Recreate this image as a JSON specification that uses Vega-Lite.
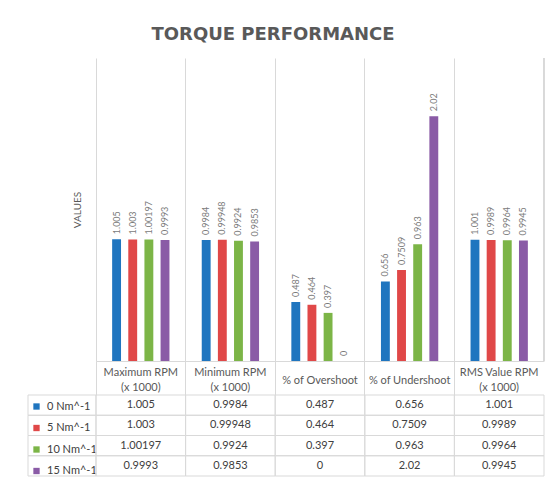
{
  "$schema": "https://vega.github.io/schema/vega-lite/v6.json",
  "title": {
    "text": "TORQUE PERFORMANCE",
    "font": "DejaVu Sans",
    "fontSize": 18,
    "fontWeight": "bold",
    "color": "#595959",
    "anchor": "middle",
    "dx": -13,
    "offset": 14
  },
  "background": "white",
  "padding": {"left": 27, "top": 25, "right": 7, "bottom": 5},
  "config": {"view": {"stroke": null}, "font": "Lato"},
  "datasets": {
    "perf": [
      {"metric": "Maximum RPM|(x 1000)", "series": "0 Nm^-1", "value": 1.005},
      {"metric": "Maximum RPM|(x 1000)", "series": "5 Nm^-1", "value": 1.003},
      {"metric": "Maximum RPM|(x 1000)", "series": "10 Nm^-1", "value": 1.00197},
      {"metric": "Maximum RPM|(x 1000)", "series": "15 Nm^-1", "value": 0.9993},
      {"metric": "Minimum RPM|(x 1000)", "series": "0 Nm^-1", "value": 0.9984},
      {"metric": "Minimum RPM|(x 1000)", "series": "5 Nm^-1", "value": 0.99948},
      {"metric": "Minimum RPM|(x 1000)", "series": "10 Nm^-1", "value": 0.9924},
      {"metric": "Minimum RPM|(x 1000)", "series": "15 Nm^-1", "value": 0.9853},
      {"metric": "% of Overshoot", "series": "0 Nm^-1", "value": 0.487},
      {"metric": "% of Overshoot", "series": "5 Nm^-1", "value": 0.464},
      {"metric": "% of Overshoot", "series": "10 Nm^-1", "value": 0.397},
      {"metric": "% of Overshoot", "series": "15 Nm^-1", "value": 0},
      {"metric": "% of Undershoot", "series": "0 Nm^-1", "value": 0.656},
      {"metric": "% of Undershoot", "series": "5 Nm^-1", "value": 0.7509},
      {"metric": "% of Undershoot", "series": "10 Nm^-1", "value": 0.963},
      {"metric": "% of Undershoot", "series": "15 Nm^-1", "value": 2.02},
      {"metric": "RMS Value RPM|(x 1000)", "series": "0 Nm^-1", "value": 1.001},
      {"metric": "RMS Value RPM|(x 1000)", "series": "5 Nm^-1", "value": 0.9989},
      {"metric": "RMS Value RPM|(x 1000)", "series": "10 Nm^-1", "value": 0.9964},
      {"metric": "RMS Value RPM|(x 1000)", "series": "15 Nm^-1", "value": 0.9945}
    ],
    "series": [
      {"series": "0 Nm^-1"},
      {"series": "5 Nm^-1"},
      {"series": "10 Nm^-1"},
      {"series": "15 Nm^-1"}
    ]
  },
  "columns": 2,
  "spacing": {"row": 34, "column": 0},
  "bounds": "flush",
  "resolve": {
    "scale": {"x": "independent", "y": "independent", "color": "independent", "xOffset": "independent"},
    "legend": {"color": "independent"}
  },
  "concat": [
    {
      "width": 68,
      "height": 303,
      "data": {"values": []},
      "mark": "point"
    },
    {
      "width": 448,
      "height": 303,
      "data": {"name": "perf"},
      "encoding": {
        "x": {
          "field": "metric",
          "type": "nominal",
          "sort": null,
          "scale": {"paddingInner": 0, "paddingOuter": 0},
          "axis": {
            "title": null,
            "orient": "bottom",
            "bandPosition": 0,
            "grid": true,
            "gridColor": "#d9d9d9",
            "domainColor": "#d9d9d9",
            "tickColor": "#d9d9d9",
            "tickSize": 34,
            "labelExpr": "split(datum.label, '|')",
            "labelAngle": 0,
            "labelPadding": {
              "condition": {"test": "indexof(datum.value, '|') >= 0", "value": -23},
              "value": -15
            },
            "labelBaseline": "middle",
            "labelLineHeight": 15,
            "labelFontSize": 11,
            "labelColor": "#595959",
            "labelFlush": false,
            "labelOverlap": false,
            "labelBound": false
          }
        },
        "xOffset": {
          "field": "series",
          "type": "nominal",
          "sort": null,
          "scale": {"paddingInner": 0.45, "paddingOuter": 1.15}
        },
        "y": {
          "field": "value",
          "type": "quantitative",
          "scale": {"domain": [0, 2.5], "nice": false},
          "axis": {
            "title": "VALUES",
            "labels": false,
            "ticks": false,
            "domain": false,
            "grid": false,
            "titleFont": "Lato",
            "titleFontSize": 10,
            "titleFontWeight": "normal",
            "titleColor": "#595959",
            "titlePadding": 14
          }
        }
      },
      "layer": [
        {
          "mark": {"type": "bar"},
          "encoding": {
            "color": {
              "field": "series",
              "type": "nominal",
              "sort": null,
              "scale": {
                "domain": ["0 Nm^-1", "5 Nm^-1", "10 Nm^-1", "15 Nm^-1"],
                "range": ["#1f75bf", "#e04848", "#7cb547", "#8a5ba6"]
              },
              "legend": {
                "title": null,
                "orient": "none",
                "legendX": -65,
                "legendY": 343,
                "direction": "vertical",
                "padding": 0,
                "symbolType": "square",
                "symbolSize": 40,
                "symbolStrokeWidth": 0,
                "labelFontSize": 11,
                "labelColor": "#404040",
                "labelOffset": 5,
                "rowPadding": 9.5
              }
            }
          }
        },
        {
          "mark": {
            "type": "text",
            "angle": 270,
            "align": "left",
            "baseline": "middle",
            "dx": 5,
            "fontSize": 9,
            "color": "#7a7a7a"
          },
          "encoding": {
            "text": {"field": "value", "type": "nominal"}
          }
        },
        {
          "mark": {"type": "rule", "color": "#d9d9d9"},
          "encoding": {
            "x": {"datum": "RMS Value RPM|(x 1000)", "type": "nominal", "bandPosition": 1},
            "xOffset": null,
            "y": null
          }
        }
      ]
    },
    {
      "width": 68,
      "height": 81,
      "data": {"name": "series"},
      "mark": {"type": "rect", "fill": "transparent", "stroke": "#d9d9d9", "strokeWidth": 1},
      "encoding": {
        "y": {
          "field": "series",
          "type": "nominal",
          "sort": null,
          "scale": {"paddingInner": 0, "paddingOuter": 0},
          "axis": null
        }
      }
    },
    {
      "width": 448,
      "height": 81,
      "data": {"name": "perf"},
      "encoding": {
        "x": {
          "field": "metric",
          "type": "nominal",
          "sort": null,
          "scale": {"paddingInner": 0, "paddingOuter": 0},
          "axis": null
        },
        "y": {
          "field": "series",
          "type": "nominal",
          "sort": null,
          "scale": {"paddingInner": 0, "paddingOuter": 0},
          "axis": null
        }
      },
      "layer": [
        {
          "mark": {"type": "rect", "fill": "transparent", "stroke": "#d9d9d9", "strokeWidth": 1}
        },
        {
          "mark": {"type": "text", "fontSize": 11, "color": "#404040"},
          "encoding": {"text": {"field": "value", "type": "nominal"}}
        }
      ]
    }
  ]
}
